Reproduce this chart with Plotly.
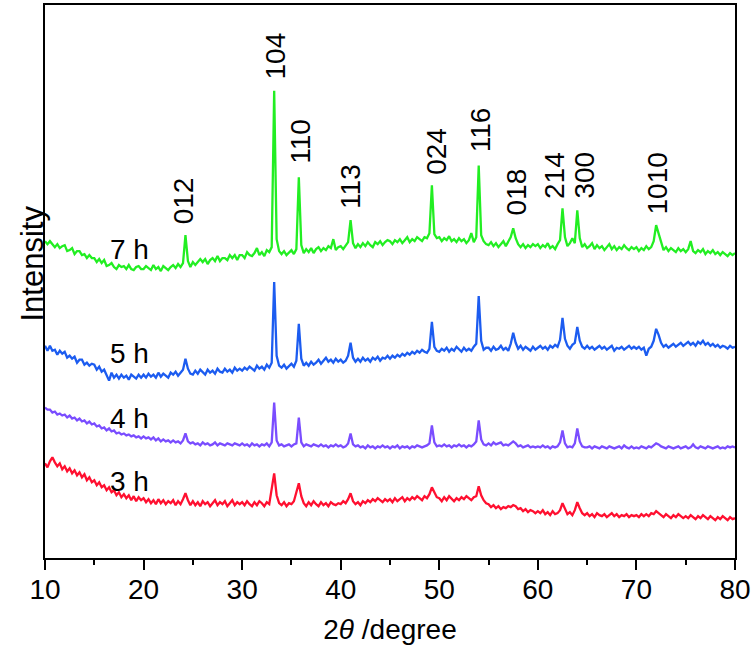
import numpy as np

import plotly.graph_objects as go

# 2theta grid of the scans, 0.25 degree step from 10 to 80
two_theta = np.arange(10.0, 80.001, 0.25)

# intensities (a.u.), one row per 5 degrees
int_7h = [
    318, 315, 318, 315, 312, 315, 311, 313, 314, 308, 309, 311, 305, 308, 308, 304, 305, 301, 304, 301,
    301, 297, 300, 296, 299, 293, 294, 296, 292, 290, 294, 292, 293, 290, 294, 290, 289, 292, 293, 290,
    290, 293, 291, 289, 294, 290, 292, 288, 293, 291, 289, 292, 294, 291, 295, 292, 296, 324, 298, 292,
    297, 294, 297, 300, 297, 300, 295, 299, 301, 298, 303, 298, 301, 301, 299, 304, 301, 304, 299, 304,
    304, 301, 307, 304, 303, 306, 311, 304, 307, 303, 309, 307, 312, 469, 320, 308, 305, 308, 304, 307,
    309, 305, 310, 382, 314, 306, 310, 307, 311, 306, 310, 312, 308, 311, 309, 313, 311, 320, 309, 312,
    313, 310, 314, 317, 339, 316, 311, 315, 312, 316, 313, 317, 314, 312, 317, 315, 318, 314, 317, 319,
    318, 315, 319, 317, 320, 316, 319, 322, 317, 320, 318, 322, 320, 318, 322, 321, 326, 374, 325, 321,
    322, 318, 321, 319, 323, 318, 320, 317, 321, 318, 320, 316, 319, 326, 317, 322, 394, 324, 318, 315,
    314, 317, 313, 316, 312, 315, 318, 313, 317, 322, 331, 321, 315, 312, 315, 311, 314, 312, 315, 313,
    315, 311, 314, 312, 316, 311, 313, 310, 315, 319, 351, 322, 313, 316, 321, 316, 349, 321, 312, 315,
    311, 313, 316, 310, 314, 311, 313, 309, 312, 315, 310, 313, 309, 312, 310, 314, 311, 309, 312, 310,
    312, 308, 311, 309, 313, 310, 312, 318, 334, 325, 316, 309, 312, 308, 311, 309, 307, 311, 308, 310,
    307, 310, 318, 308, 306, 309, 307, 310, 305, 308, 306, 309, 305, 307, 304, 307, 305, 303, 306, 304,
    306,
]
int_5h = [
    213, 208, 213, 208, 209, 204, 208, 205, 207, 201, 203, 200, 202, 196, 199, 199, 194, 196, 193, 195,
    194, 189, 192, 187, 189, 183, 178, 186, 181, 184, 180, 184, 181, 183, 179, 184, 182, 180, 184, 181,
    184, 181, 185, 182, 184, 181, 186, 182, 185, 183, 181, 186, 184, 187, 183, 186, 189, 200, 190, 185,
    184, 188, 185, 189, 186, 184, 189, 186, 188, 185, 190, 187, 186, 190, 187, 189, 186, 191, 188, 190,
    188, 191, 189, 192, 190, 188, 193, 190, 192, 189, 194, 191, 196, 277, 203, 193, 191, 194, 190, 193,
    195, 192, 198, 235, 200, 193, 196, 193, 197, 194, 196, 199, 195, 198, 201, 197, 199, 196, 200, 197,
    199, 196, 198, 203, 216, 201, 197, 200, 197, 201, 198, 200, 197, 201, 199, 202, 198, 201, 200, 203,
    200, 203, 201, 204, 202, 205, 203, 206, 204, 207, 205, 208, 206, 209, 207, 206, 210, 237, 212, 208,
    207, 210, 208, 211, 207, 210, 208, 212, 209, 207, 211, 208, 210, 208, 212, 215, 263, 218, 209, 211,
    211, 208, 212, 209, 210, 213, 209, 211, 208, 215, 226, 216, 210, 213, 209, 212, 210, 208, 212, 209,
    211, 213, 210, 212, 209, 213, 211, 214, 212, 219, 241, 220, 213, 210, 214, 216, 232, 218, 212, 210,
    213, 210, 212, 209, 211, 213, 210, 212, 209, 211, 213, 208, 211, 210, 212, 209, 211, 213, 210, 212,
    210, 212, 209, 211, 203, 210, 212, 218, 230, 224, 216, 212, 214, 211, 213, 215, 212, 214, 216, 213,
    215, 217, 214, 216, 213, 217, 215, 218, 214, 216, 213, 215, 212, 214, 211, 213, 212, 210, 213, 211,
    212,
]
int_4h = [
    151, 149, 149, 146, 147, 144, 145, 143, 144, 141, 143, 140, 141, 138, 140, 137, 138, 135, 137, 134,
    135, 132, 133, 130, 131, 128, 130, 127, 128, 125, 126, 124, 125, 123, 124, 122, 123, 121, 122, 120,
    122, 120, 121, 119, 121, 118, 120, 117, 119, 117, 118, 116, 118, 116, 117, 115, 118, 125, 117, 115,
    116, 114, 115, 113, 116, 114, 115, 113, 114, 116, 113, 115, 114, 113, 115, 114, 113, 115, 114, 113,
    115, 113, 114, 112, 115, 113, 114, 112, 114, 113, 115, 112, 116, 156, 118, 113, 114, 112, 113, 114,
    112, 114, 115, 141, 116, 112, 114, 113, 112, 114, 113, 112, 114, 112, 113, 111, 113, 112, 114, 112,
    113, 111, 112, 115, 125, 114, 112, 113, 111, 112, 110, 113, 111, 112, 110, 112, 111, 113, 111, 112,
    110, 112, 111, 113, 110, 112, 111, 112, 110, 112, 111, 113, 112, 111, 112, 113, 115, 133, 116, 112,
    113, 112, 114, 112, 113, 111, 113, 112, 114, 112, 113, 111, 113, 112, 114, 117, 138, 119, 114, 113,
    115, 113, 116, 114, 115, 116, 113, 114, 113, 115, 117, 115, 112, 113, 111, 112, 113, 111, 112, 111,
    112, 111, 113, 111, 112, 110, 112, 111, 112, 116, 128, 115, 111, 112, 111, 115, 130, 117, 112, 111,
    111, 112, 110, 112, 111, 110, 112, 111, 110, 112, 111, 110, 111, 112, 110, 113, 111, 110, 112, 110,
    111, 110, 112, 111, 110, 112, 111, 113, 115, 114, 112, 111, 110, 112, 111, 110, 111, 112, 110, 111,
    112, 110, 111, 114, 111, 110, 112, 111, 110, 112, 111, 110, 111, 112, 110, 111, 110, 112, 111, 112,
    111,
]
int_3h = [
    95, 91, 97, 101, 96, 92, 95, 89, 92, 87, 90, 85, 88, 83, 86, 81, 84, 78, 81, 76,
    78, 73, 76, 71, 73, 68, 71, 66, 68, 63, 66, 61, 64, 60, 63, 58, 62, 57, 61, 58,
    60, 56, 59, 55, 58, 54, 59, 55, 58, 54, 57, 55, 58, 53, 57, 54, 59, 65, 58, 53,
    57, 53, 56, 52, 57, 54, 56, 52, 55, 58, 53, 56, 54, 57, 52, 55, 58, 53, 56, 54,
    56, 53, 57, 54, 52, 56, 53, 57, 55, 52, 56, 54, 68, 85, 63, 55, 53, 56, 52, 55,
    54, 57, 66, 75, 62, 55, 52, 56, 53, 57, 54, 52, 56, 53, 55, 52, 56, 54, 53, 55,
    54, 57, 55, 59, 65, 57, 54, 56, 53, 57, 55, 58, 56, 59, 57, 60, 58, 56, 59, 57,
    59, 56, 60, 57, 59, 61, 57, 60, 58, 61, 59, 62, 60, 58, 62, 60, 64, 71, 66, 61,
    60, 57, 61, 58, 62, 59, 57, 60, 58, 61, 59, 62, 60, 58, 61, 62, 72, 63, 58, 55,
    54, 51, 53, 50, 52, 49, 51, 50, 52, 51, 53, 52, 49, 50, 47, 49, 46, 48, 47, 45,
    47, 45, 48, 44, 46, 43, 47, 44, 45, 48, 55, 49, 44, 46, 43, 48, 56, 50, 45, 43,
    45, 42, 44, 41, 45, 43, 42, 44, 41, 43, 45, 42, 44, 41, 43, 42, 44, 41, 43, 42,
    43, 41, 44, 42, 44, 42, 45, 44, 47, 45, 43, 41, 44, 42, 40, 43, 41, 44, 42, 40,
    42, 40, 43, 41, 39, 42, 40, 43, 41, 39, 42, 40, 38, 41, 39, 42, 40, 38, 41, 39,
    40,
]

# reflection labels above the 7 h pattern
hkl_labels = ["012", "104", "110", "113", "024", "116", "018", "214", "300", "1010"]
hkl_x = [24.0, 33.4, 35.9, 41.0, 49.7, 54.2, 57.8, 61.7, 64.7, 72.1]
hkl_y = [358, 504, 418, 373, 408, 430, 367, 384, 384, 376]

# sample names, placed next to each curve
sample_names = ["7 h", "5 h", "4 h", "3 h"]
sample_x = [18.6, 18.6, 18.6, 18.6]
sample_y = [310, 205, 140, 77]

series = [
    (int_7h, "#22ee22"),
    (int_5h, "#1c5cf0"),
    (int_4h, "#7a4dff"),
    (int_3h, "#ff1030"),
]

font_family = "Liberation Sans, Arial, sans-serif"

fig = go.Figure()
for (values, color), name in zip(series, sample_names):
    fig.add_trace(
        go.Scatter(
            x=two_theta,
            y=values,
            mode="lines",
            name=name,
            line=dict(color=color, width=2.3),
        )
    )

for label, x, y in zip(hkl_labels, hkl_x, hkl_y):
    fig.add_annotation(
        x=x, y=y, text=label, textangle=-90, showarrow=False,
        font=dict(size=28, color="black", family=font_family),
    )

for label, x, y in zip(sample_names, sample_x, sample_y):
    fig.add_annotation(
        x=x, y=y, text=label, showarrow=False,
        font=dict(size=28, color="black", family=font_family),
    )

# y title as a paper annotation so it sits where the original one does
fig.add_annotation(
    xref="paper", yref="paper", x=-0.046, y=0.532, text="Intensity",
    textangle=-90, showarrow=False,
    font=dict(size=31, color="black", family=font_family),
)

fig.update_layout(
    width=754,
    height=645,
    margin=dict(l=45, r=18, t=3, b=87),
    paper_bgcolor="white",
    plot_bgcolor="white",
    showlegend=False,
    font=dict(family=font_family, size=28, color="black"),
)
fig.update_xaxes(
    range=[10, 80],
    dtick=10,
    ticks="outside",
    ticklen=10,
    tickwidth=2,
    tickcolor="black",
    minor=dict(dtick=5, ticks="outside", ticklen=5, tickwidth=2, tickcolor="black"),
    showline=True,
    linewidth=2,
    linecolor="black",
    mirror=True,
    showgrid=False,
    zeroline=False,
    tickfont=dict(size=28),
    ticklabelstandoff=-5,
    title=dict(text="2<i>θ</i> /degree", font=dict(size=28), standoff=16),
)
fig.update_yaxes(
    range=[0, 555],
    showticklabels=False,
    ticks="",
    showline=True,
    linewidth=2,
    linecolor="black",
    mirror=True,
    showgrid=False,
    zeroline=False,
)

# the page body has a default 8px margin; drop it so the figure fills the window
fig.write_html(
    "out.html",
    config={"displayModeBar": False},
    post_script="document.body.style.margin = '0';",
)
